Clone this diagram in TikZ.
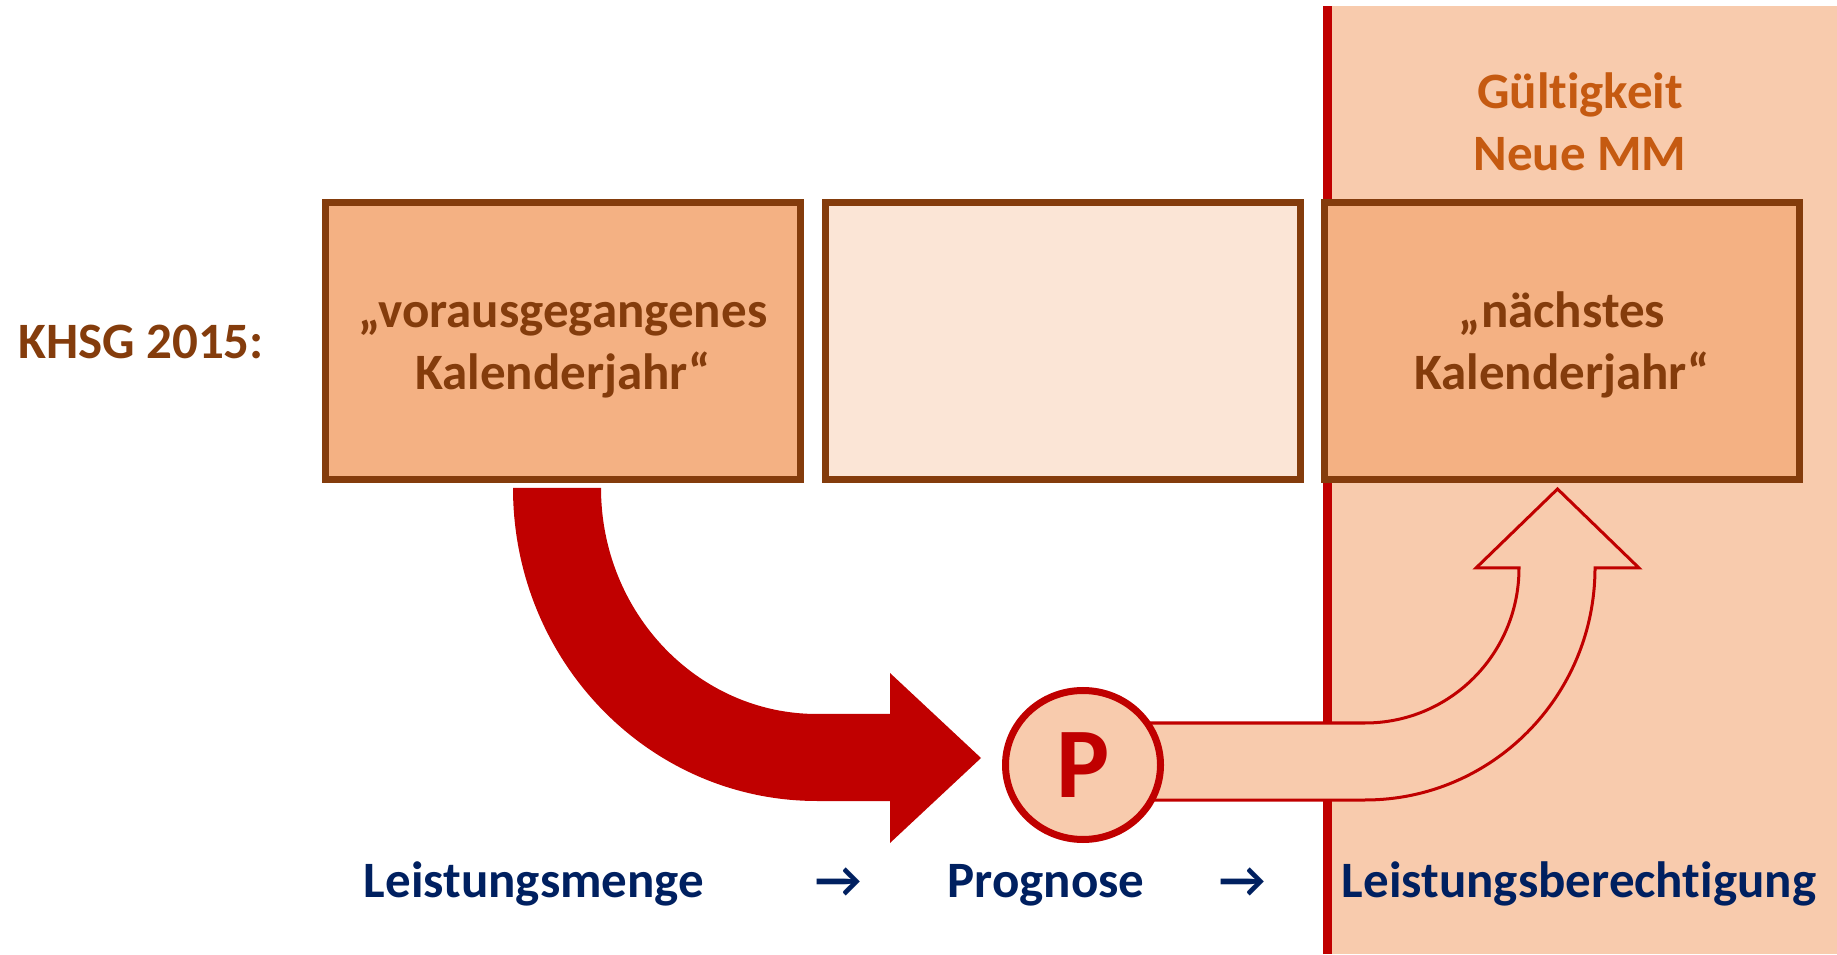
\documentclass[tikz,border=0pt]{standalone}
\usepackage{fontspec}
\setmainfont{Carlito}[Ligatures=NoCommon]
\newfontfamily\symfont{DejaVu Sans}
\usepackage{tikz}
\usetikzlibrary{shapes.geometric, positioning}
\definecolor{braun}{HTML}{843C0C}
\definecolor{orange}{HTML}{C55A11}
\definecolor{hellorange}{HTML}{F4B183}
\definecolor{blassorange}{HTML}{FBE5D6}
\definecolor{hellhint}{HTML}{F8CBAD}
\definecolor{rot}{HTML}{C00000}
\definecolor{navy}{HTML}{002060}
\newcommand\diagfont{\fontsize{51}{62}\selectfont\bfseries}
\newcommand\pfeil{\iffontchar\font"2192 →\else{\symfont →}\fi}
\newcommand\hochstrut{\rule{0pt}{53pt}}
\tikzstyle{jahrbox} = [rectangle, draw=braun, line width=7pt, minimum width=475pt, minimum height=277pt, inner sep=0pt, align=center, text=braun, font=\diagfont]
\tikzstyle{flowtext} = [anchor=base, inner sep=0pt, text=navy, font=\diagfont]
\tikzstyle{blockarrow} = [draw=rot, line width=3pt, fill=hellhint, line join=miter]

\begin{document}
\begin{tikzpicture}[x=1pt, y=1pt]
    \useasboundingbox (0,0) rectangle (1837,954);
    % Zeitraum der neuen Mindestmenge
    \fill[hellhint] (1327,0) rectangle (1837,948);
    \draw[rot, line width=9pt] (1327,0) -- (1327,948);
    \node[text=orange, font=\diagfont, align=center, inner sep=0pt] (gueltig) at (1580,827) {\strut Gültigkeit\\\strut Neue MM};

    % Kalenderjahre
    \node[anchor=base, text=braun, font=\diagfont, inner sep=0pt] (khsg) at (141,595) {KHSG 2015:};
    \node[jahrbox, fill=hellorange] (vorjahr) at (563,613) {\hochstrut„vorausgegangenes\\\strut Kalenderjahr“};
    \node[jahrbox, fill=blassorange, right=18pt of vorjahr] (zwischen) {};
    \node[jahrbox, fill=hellorange, right=17pt of zwischen] (naechstes) {\hochstrut„nächstes\\\strut Kalenderjahr“};

    % Leistungsmenge -> Prognose
    \fill[rot] (513,466) .. controls (513,293) and (649,153) .. (817,153)
        -- (890,153) -- (890,111) -- (981,196) -- (890,281) -- (890,240) -- (817,240)
        .. controls (698,240) and (601,341) .. (601,466) -- cycle;

    % Prognose -> Leistungsberechtigung
    \draw[blockarrow] (1083,231) -- (1365,231) .. controls (1450,231) and (1519,300) .. (1519,386)
        -- (1476,386) -- (1557.5,465) -- (1639,386) -- (1595,386)
        .. controls (1595,258) and (1492,154) .. (1365,154) -- (1083,154) -- cycle;
    \node[ellipse, draw=rot, line width=7pt, fill=hellhint, minimum width=155pt, minimum height=149pt, inner sep=0pt, text=rot, font=\fontsize{100}{120}\selectfont\bfseries] (prognose) at (1083,189) {P};

    % Ablauf
    \node[flowtext] (menge) at (534,57) {Leistungsmenge};
    \node[flowtext] (pfeila) at (839,57) {\pfeil};
    \node[flowtext] (prog) at (1046,57) {Prognose};
    \node[flowtext] (pfeilb) at (1243,57) {\pfeil};
    \node[flowtext] (berecht) at (1579,57) {Leistungsberechtigung};
\end{tikzpicture}
\end{document}
